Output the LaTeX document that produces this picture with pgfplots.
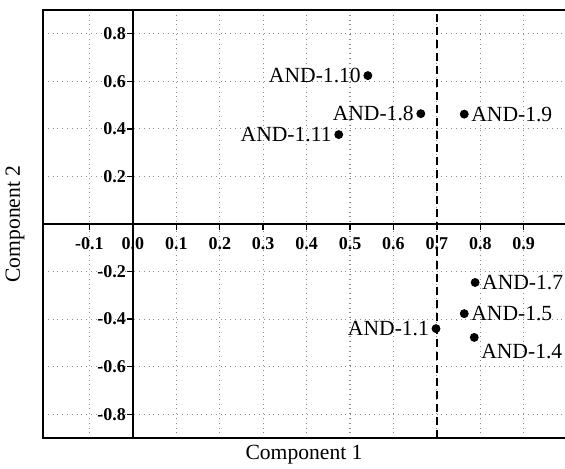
\documentclass[border=0pt]{standalone}
\usepackage{fontspec}
\setmainfont{Liberation Serif}
\usepackage{pgfplots}
\pgfplotsset{compat=1.18}
\usepackage{pgfplotstable}

\pgfplotstableread{
x y label
0.541 0.624 {AND-1.10}
0.663 0.464 {AND-1.8}
0.474 0.376 {AND-1.11}
0.698 -0.440 {AND-1.1}
}\lefttable
\pgfplotstableread{
x y label
0.763 0.462 {AND-1.9}
0.788 -0.246 {AND-1.7}
0.763 -0.377 {AND-1.5}
}\righttable
\pgfplotstableread{
x y label
0.786 -0.477 {AND-1.4}
}\belowtable

\begin{document}
\begin{tikzpicture}
\useasboundingbox (-21.5pt,-15pt) rectangle (261pt,219pt);
\begin{axis}[
  scale only axis,
  width=261pt, height=214pt,
  xmin=-0.207, xmax=0.995,
  ymin=-0.9, ymax=0.9,
  axis lines=center,
  axis line style={-, line width=1pt, black},
  hide obscured x ticks=false,
  hide obscured y ticks=false,
  xtick={-0.1,0,0.1,0.2,0.3,0.4,0.5,0.6,0.7,0.8,0.9},
  ytick={-0.8,-0.6,-0.4,-0.2,0.2,0.4,0.6,0.8},
  tick align=outside,
  major tick length=3pt,
  tick style={black, line width=0.7pt},
  /pgf/number format/assume math mode=true,
  /pgf/number format/fixed,
  /pgf/number format/fixed zerofill,
  /pgf/number format/precision=1,
  tick label style={font=\fontsize{9}{10}\selectfont\bfseries},
  yticklabel style={xshift=3pt},
  grid=major,
  major grid style={dotted, gray!90, line width=0.55pt},
  clip=false,
  xlabel={Component 1},
  ylabel={Component 2},
  every axis x label/.style={at={(rel axis cs:0.5,-0.0397)}, anchor=center, font=\fontsize{10.8}{12}\selectfont},
  every axis y label/.style={at={(rel axis cs:-0.0536,0.5)}, anchor=center, rotate=90, font=\fontsize{10.8}{12}\selectfont},
  mylab/.style={only marks, mark=*, mark size=2pt, black,
    point meta=explicit symbolic, nodes near coords,
    every node near coord/.append style={anchor=#1, font=\fontsize{10.8}{12}\selectfont, text=black}},
]
\addplot[black, line width=1pt, dash pattern=on 4pt off 2.5pt, forget plot] coordinates {(0.7,-0.9) (0.7,0.9)};
\addplot[mylab=east] table[x=x, y=y, meta=label] {\lefttable};
\addplot[mylab=west] table[x=x, y=y, meta=label] {\righttable};
\addplot[mylab=north west] table[x=x, y=y, meta=label] {\belowtable};
\draw[line width=1.2pt, black] (rel axis cs:1,1) -- (rel axis cs:0,1) -- (rel axis cs:0,0) -- (rel axis cs:1,0);
\end{axis}
\end{tikzpicture}
\end{document}
